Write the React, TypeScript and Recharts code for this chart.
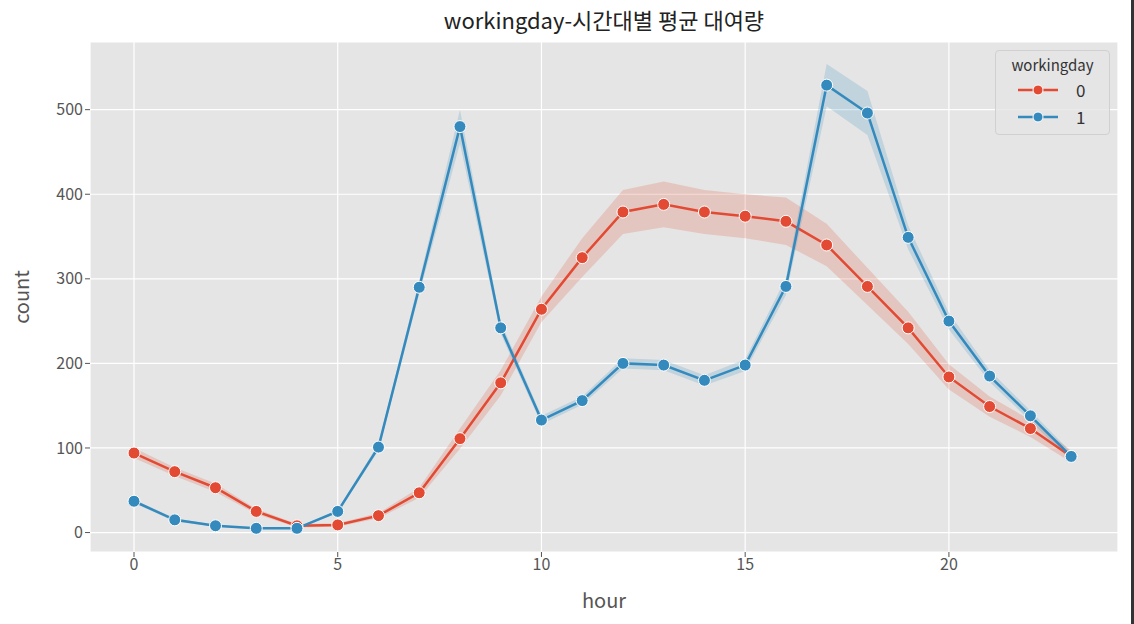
import React from 'react'
import {
  ComposedChart,
  Line,
  Area,
  XAxis,
  YAxis,
  CartesianGrid,
} from 'recharts'

const HOURS = [0, 1, 2, 3, 4, 5, 6, 7, 8, 9, 10, 11, 12, 13, 14, 15, 16, 17, 18, 19, 20, 21, 22, 23]

// workingday = 0 (holidays / weekends)
const MEAN_0 = [94, 72, 53, 25, 8, 9, 20, 47, 111, 177, 264, 325, 379, 388, 379, 374, 368, 340, 291, 242, 184, 149, 123, 90]
const CI_0 = [6, 5, 5, 3, 2, 2, 3, 6, 12, 15, 15, 23, 26, 27, 26, 26, 28, 25, 22, 19, 15, 12, 10, 7]

// workingday = 1
const MEAN_1 = [37, 15, 8, 5, 5, 25, 101, 290, 480, 242, 133, 156, 200, 198, 180, 198, 291, 529, 496, 349, 250, 185, 138, 90]
const CI_1 = [2, 2, 1, 1, 1, 2, 4, 8, 20, 7, 5, 5, 6, 6, 6, 7, 10, 25, 26, 14, 10, 7, 6, 5]

const X_TICKS = [0, 5, 10, 15, 20]
const Y_TICKS = [0, 100, 200, 300, 400, 500]

const RED = '#E24A33'
const BLUE = '#348ABD'
const FONT = '"Noto Sans CJK KR", "Noto Sans", sans-serif'

const chartData = HOURS.map((h, i) => ({
  hour: h,
  m0: MEAN_0[i],
  band0: [MEAN_0[i] - CI_0[i], MEAN_0[i] + CI_0[i]],
  m1: MEAN_1[i],
  band1: [MEAN_1[i] - CI_1[i], MEAN_1[i] + CI_1[i]],
}))

const SERIES = [
  { name: '0', color: RED },
  { name: '1', color: BLUE },
]

// drawn outside the chart so it doesn't eat into the plot height
const LegendBox = () => (
  <div
    style={{
      position: 'absolute',
      left: 995,
      top: 50,
      width: 115,
      boxSizing: 'border-box',
      background: 'rgba(229,229,229,0.8)',
      border: '1px solid #d0d0d0',
      borderRadius: 4,
      padding: '3px 8px 4px 8px',
      fontFamily: FONT,
      color: '#333',
    }}
  >
    <div style={{ fontSize: 15, textAlign: 'center', marginBottom: 1 }}>workingday</div>
    {SERIES.map((s) => (
      <div key={s.name} style={{ display: 'flex', alignItems: 'center', height: 27 }}>
        <svg width={40} height={14} style={{ marginLeft: 14 }}>
          <line x1={0} y1={7} x2={40} y2={7} stroke={s.color} strokeWidth={2.5} />
          <circle cx={20} cy={7} r={5} fill={s.color} stroke="#fff" strokeWidth={1} />
        </svg>
        <span style={{ fontSize: 17, marginLeft: 18 }}>{s.name}</span>
      </div>
    ))}
  </div>
)

const dot = (color: string) => ({ r: 6, fill: color, stroke: '#fff', strokeWidth: 1, fillOpacity: 1 })

export default function App() {
  return (
    <div
      style={{
        position: 'absolute',
        left: 0,
        top: 0,
        width: 1134,
        height: 624,
        background: '#fff',
        fontFamily: FONT,
      }}
    >
      <div
        style={{
          position: 'absolute',
          left: 90,
          width: 1028,
          top: 3,
          textAlign: 'center',
          fontSize: 22,
          color: '#222',
        }}
      >
        workingday-시간대별 평균 대여량
      </div>
      <div
        style={{
          position: 'absolute',
          right: 0,
          top: 0,
          width: 3,
          height: 624,
          background: '#333',
        }}
      />
      <ComposedChart
        width={1134}
        height={624}
        data={chartData}
        margin={{ top: 42, right: 16, bottom: 0, left: 0 }}
      >
        <CartesianGrid fill="#E5E5E5" stroke="#fff" strokeWidth={1.2} />
        <XAxis
          dataKey="hour"
          type="number"
          domain={[-1.08, 24.15]}
          ticks={X_TICKS}
          allowDataOverflow
          axisLine={false}
          tickLine={{ stroke: '#555' }}
          tickSize={5}
          tick={{ fill: '#555', fontSize: 16, fontFamily: FONT }}
          height={72}
          label={{
            value: 'hour',
            position: 'insideBottom',
            offset: 16,
            fill: '#555',
            fontSize: 20,
            fontFamily: FONT,
          }}
        />
        <YAxis
          type="number"
          domain={[-23, 580]}
          ticks={Y_TICKS}
          allowDataOverflow
          axisLine={false}
          tickLine={{ stroke: '#555' }}
          tickSize={5}
          tick={{ fill: '#555', fontSize: 16, fontFamily: FONT }}
          width={90}
          label={{
            value: 'count',
            angle: -90,
            position: 'insideLeft',
            offset: 22,
            fill: '#555',
            fontSize: 20,
            fontFamily: FONT,
            style: { textAnchor: 'middle' },
          }}
        />
        <Area
          dataKey="band0"
          fill={RED}
          fillOpacity={0.2}
          stroke="none"
          isAnimationActive={false}
          activeDot={false}
          legendType="none"
        />
        <Area
          dataKey="band1"
          fill={BLUE}
          fillOpacity={0.2}
          stroke="none"
          isAnimationActive={false}
          activeDot={false}
          legendType="none"
        />
        <Line
          dataKey="m0"
          name="0"
          stroke={RED}
          strokeWidth={2.5}
          dot={dot(RED)}
          isAnimationActive={false}
        />
        <Line
          dataKey="m1"
          name="1"
          stroke={BLUE}
          strokeWidth={2.5}
          dot={dot(BLUE)}
          isAnimationActive={false}
        />
      </ComposedChart>
      <LegendBox />
    </div>
  )
}
